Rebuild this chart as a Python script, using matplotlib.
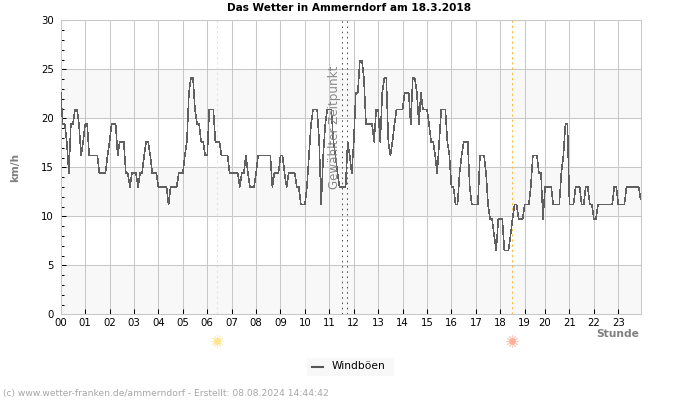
import numpy as np
import matplotlib
matplotlib.use('Agg')
import matplotlib.pyplot as plt
from matplotlib.patches import Rectangle

# Windboeen in km/h, one value per sample (about 5 min), grouped by hour
h00 = [22.7,19.4,19.4,17.6,14.4,19.4,19.4,20.9,20.9,19.4,16.2,17.6]
h01 = [19.4,19.4,16.2,16.2,16.2,16.2,16.2,14.4,14.4,14.4,14.4,16.2]
h02 = [17.6,19.4,19.4,19.4,16.2,17.6,17.6,17.6,14.4,14.4,13,14.4]
h03 = [14.4,14.4,13,14.4,14.4,16.2,17.6,17.6,16.2,14.4,14.4,14.4]
h04 = [13,13,13,13,13,11.2,13,13,13,13,14.4,14.4]
h05 = [14.4,16.2,17.6,22.6,24.1,24.1,20.9,19.4,19.4,17.6,17.6,16.2]
h06 = [16.2,20.9,20.9,20.9,17.6,17.6,17.6,16.2,16.2,16.2,16.2,14.4]
h07 = [14.4,14.4,14.4,14.4,13,14.4,14.4,16.2,14.4,13,13,13]
h08 = [14.4,16.2,16.2,16.2,16.2,16.2,16.2,16.2,13,14.4,14.4,14.4]
h09 = [16.2,16.2,14.4,13,14.4,14.4,14.4,14.4,13,13,11.2,11.2]
h10 = [11.2,13,16.2,19.4,20.9,20.9,20.9,17.6,11.2,16.2,19.4,20.9]
h11 = [20.9,20.9,17.6,16.2,14.4,13,13,13,13,17.6,16.2,14.4]
h12 = [17.6,22.6,22.6,25.9,25.9,24.1,19.4,19.4,19.4,19.4,17.6,20.9]
h13 = [20.9,17.6,22.6,24.1,24.1,17.6,16.2,17.6,19.4,20.9,20.9,20.9]
h14 = [20.9,22.6,22.6,22.6,19.4,24.1,24.1,22.6,19.4,22.6,20.9,20.9]
h15 = [20.9,19.4,17.6,17.6,16.2,14.4,17.6,20.9,20.9,20.9,17.6,16.2]
h16 = [13,13,11.2,11.2,14.4,16.2,17.6,17.6,17.6,13,11.2,11.2]
h17 = [11.2,11.2,16.2,16.2,16.2,14.4,11.2,9.7,9.7,8,6.5,9.7]
h18 = [9.7,9.7,6.5,6.5,6.5,8,9.7,11.2,11.2,9.7,9.7,9.7]
h19 = [11.2,11.2,11.2,13,16.2,16.2,16.2,14.4,14.4,9.7]
h20 = [13,13,13,13,11.2,11.2,11.2,11.2,14.4,16.2,19.4,19.4]
h21 = [11.2,11.2,11.2,13,13,13,11.2,11.2,13,13,11.2,11.2]
h22 = [9.7,9.7,11.2,11.2,11.2,11.2,11.2,11.2,11.2,11.2,13,13]
h23 = [11.2,11.2,11.2,11.2,13,13,13,13,13,13,13,11.7]

gusts = (h00+h01+h02+h03+h04+h05+h06+h07+h08+h09+h10+h11
         +h12+h13+h14+h15+h16+h17+h18+h19+h20+h21+h22+h23)

hour_labels = ['%02d' % h for h in range(24)]
hour_ticks = [0,12,24,36,48,60,72,84,96,108,120,132,144,156,168,180,192,204,216,228,238,250,262,274]
sunrise = 76.9
sunset = 221.9
selected = [138, 140.9]

W, H = 700, 400
fig = plt.figure(figsize=(7, 4), dpi=100)
ax = fig.add_axes([60.7/W, 1-314.3/H, 580/W, 294/H])

x = np.arange(len(gusts))

for lo in [0, 10, 20]:
    ax.axhspan(lo, lo+5, color='#f8f8f8', lw=0, zorder=0)
ax.grid(True, which='major', color='#c8c8c8', lw=0.75, zorder=1)
ax.set_axisbelow(True)

ax.plot(x, gusts, color='#606060', lw=0.4, antialiased=False, zorder=3)

ax.axvline(sunrise, color='#f5e88a', lw=0.75, ls=(0, (2, 3)), zorder=2)
ax.axvline(sunset, color='#fdb93c', lw=0.75, ls=(0, (2, 3)), zorder=2)
for s in selected:
    ax.axvline(s, color='#555555', lw=0.75, ls=(0, (1.5, 3.5)), zorder=2)

ax.text(134.5, 19.1, 'Gewählter Zeitpunkt', rotation=90, color='#888888', fontsize=8.6,
        ha='center', va='center', zorder=4)

# sun icons below the axis
for sx, col, ray in [(sunrise, '#fde68f', '#fdeeb8'), (sunset, '#fdb09c', '#fdd0c4')]:
    ax.scatter([sx], [-2.75], s=70, marker=(12, 2, 0), color=ray, lw=0.7, clip_on=False, zorder=5)
    ax.scatter([sx], [-2.75], s=24, marker='o', color=col, lw=0, clip_on=False, zorder=6)

ax.set_xlim(0, len(gusts)-1)
ax.set_ylim(0, 30)
ax.set_xticks(hour_ticks)
ax.set_xticklabels(hour_labels)
ax.set_yticks(range(0, 31, 5))
ax.set_yticks(range(0, 31), minor=True)
ax.tick_params(axis='x', direction='in', length=3.6, width=0.75, color='black', labelsize=7.3, pad=3)
ax.tick_params(axis='y', which='major', direction='in', length=3.6, width=0.75, color='black', labelsize=7.3, pad=5)
ax.tick_params(axis='y', which='minor', direction='in', length=1.8, width=0.75, color='black')
ax.tick_params(axis='x', which='both', top=False)
for sp in ax.spines.values():
    sp.set_color('#c8c8c8')
    sp.set_linewidth(0.75)

fig.text(349.5/W, 1-8/H, 'Das Wetter in Ammerndorf am 18.3.2018', fontsize=7.55, fontweight='bold',
         ha='center', va='center', color='black')
fig.text(15.5/W, 1-167/H, 'km/h', fontsize=7.6, fontweight='bold', color='#808080',
         rotation=90, ha='center', va='center')
fig.text(639/W, 1-334/H, 'Stunde', fontsize=7.7, fontweight='bold', color='#808080',
         ha='right', va='center')

fig.add_artist(Rectangle((307/W, 1-376/H), 87/W, 18/H, transform=fig.transFigure,
                         facecolor='#f8f8f8', edgecolor='none'))
fig.add_artist(plt.Line2D([312/W, 323/W], [1-367/H, 1-367/H], color='#555555', lw=1.5))
fig.text(332/W, 1-366/H, 'Windböen', fontsize=7.7, color='black', ha='left', va='center')

fig.text(3/W, 1-393.5/H, '(c) www.wetter-franken.de/ammerndorf - Erstellt: 08.08.2024 14:44:42',
         fontsize=6.6, color='#a6a6a6', ha='left', va='center')

fig.savefig('out.png', dpi=100)
